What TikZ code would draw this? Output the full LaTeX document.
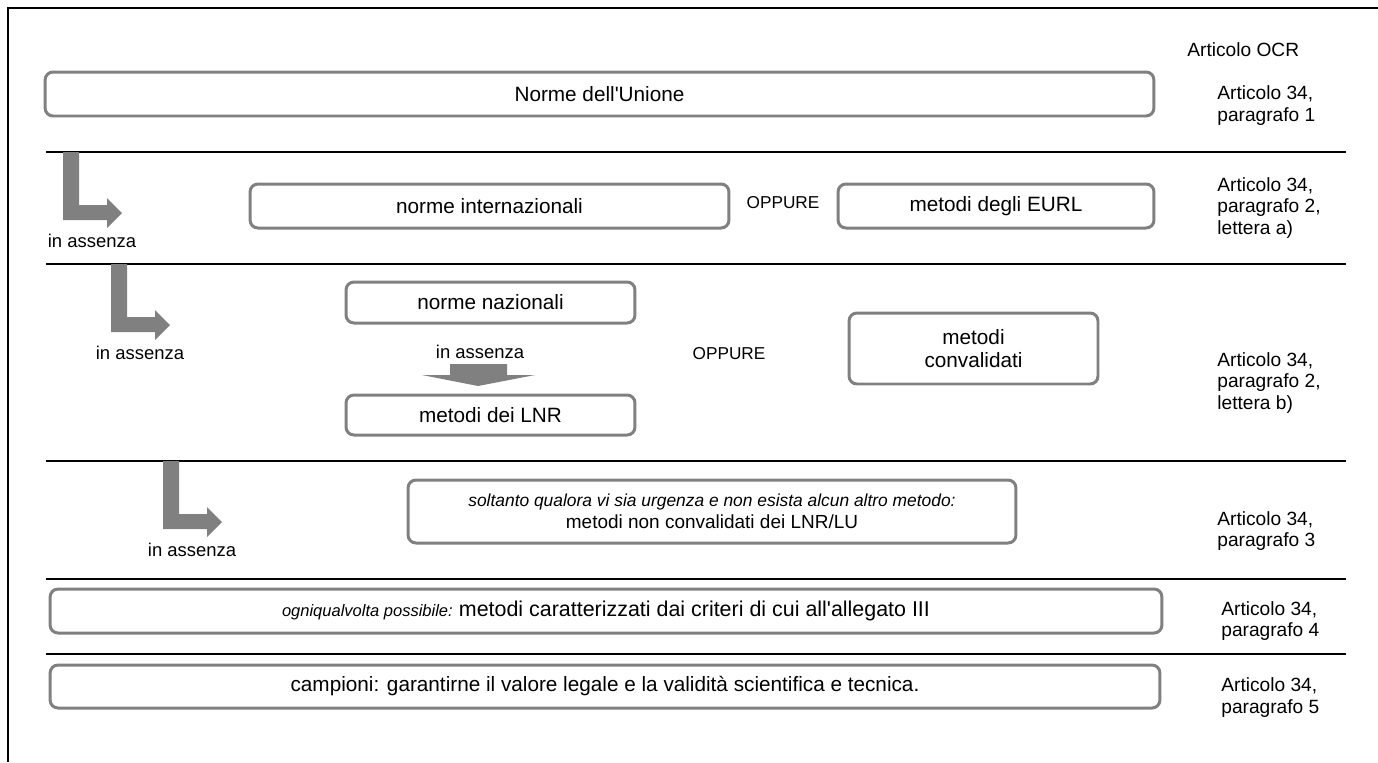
\documentclass[tikz,border=0pt]{standalone}
\usepackage{fontspec}
\setmainfont{Liberation Sans}
\usetikzlibrary{positioning}
\definecolor{boxgray}{HTML}{808080}
\tikzstyle{box}=[draw=boxgray,line width=1.7pt,rounded corners=4.5pt,inner sep=2pt,align=center,font=\fontsize{11.8}{13.5}\selectfont]
\tikzstyle{article}=[anchor=west,align=left,inner sep=0pt,font=\fontsize{10.9}{12}\selectfont]
\tikzstyle{note}=[inner sep=0pt,font=\fontsize{10.5}{12}\selectfont]
\tikzstyle{small note}=[inner sep=0pt,font=\fontsize{9.8}{12}\selectfont]
\tikzstyle{rule}=[draw,line width=1pt]
\tikzstyle{bend arrow}=[fill=boxgray]

\begin{document}
\begin{tikzpicture}[x=0.02cm,y=-0.02cm]
    \useasboundingbox (0,0) rectangle (1378,762);
    % Frame and row separators
    \draw[line width=1.2pt] (8,762) -- (8,8) -- (1378,8);
    \foreach \y in {152,264,461,579,654}
        \path[rule] (46,\y) -- (1346,\y);

    % Method boxes
    \node[box,minimum width=22.18cm,minimum height=0.88cm] (unione) at (599.5,94) {Norme dell\textquotesingle Unione};
    \node[box,minimum width=9.58cm,minimum height=0.88cm] (internaz) at (489.5,206) {norme internazionali};
    \node[box,minimum width=6.32cm,minimum height=0.88cm] (eurl) at (996,206) {metodi degli EURL};
    \node[box,minimum width=5.78cm,minimum height=0.82cm] (nazion) at (490.5,302.5) {norme nazionali};
    \node[box,minimum width=5.78cm,minimum height=0.80cm] (lnr) at (490.5,415) {metodi dei LNR};
    \node[box,minimum width=4.98cm,minimum height=1.42cm] (convalid) at (973.5,348.5) {metodi\\convalidati};
    \node[box,minimum width=12.16cm,minimum height=1.26cm,font=\fontsize{10.8}{12.5}\selectfont] (urgenza) at (712,511.5)
        {{\fontsize{9.9}{11.5}\selectfont\itshape soltanto qualora vi sia urgenza e non esista alcun altro metodo:}\\metodi non convalidati dei LNR/LU};
    \node[box,minimum width=22.24cm,minimum height=0.88cm,font=\fontsize{12.2}{14}\selectfont] (criteri) at (606,611)
        {{\fontsize{9.4}{11}\selectfont\itshape ogniqualvolta possibile: }metodi caratterizzati dai criteri di cui all\textquotesingle allegato III};
    \node[box,minimum width=22.2cm,minimum height=0.86cm] (campioni) at (605,686.5)
        {campioni: garantirne il valore legale e la validità scientifica e tecnica.};

    % OPPURE and in assenza
    \node[small note] (oppure1) at (783,203) {OPPURE};
    \node[small note] (oppure2) at (729,354) {OPPURE};
    \node[note] (assenza) at (480,352) {in assenza};
    \path[bend arrow] (450,364) -- (507,364) -- (507,375) -- (535,375) -- (478,386) -- (422,375) -- (450,375) -- cycle;

    % Bent arrows on the left
    \foreach \ox/\oy/\name in {63/152/assenzaA, 111/264/assenzaB, 163/461/assenzaC}{
        \path[bend arrow,shift={(\ox,\oy)}] (0,0) -- (16,0) -- (16,53) -- (44,53) -- (44,46) -- (59,61) -- (44,76) -- (44,68) -- (0,68) -- cycle;
        \node[note] (\name) at (\ox+29,\oy+89) {in assenza};
    }

    % Article references
    \node[article] (ocr) at (1187,50) {Articolo OCR};
    \foreach \x/\y/\txt/\name in {1217/105.5/{Articolo 34,\\paragrafo 1}/artA,
        1217/208/{Articolo 34,\\paragrafo 2,\\lettera a)}/artB,
        1217/383/{Articolo 34,\\paragrafo 2,\\lettera b)}/artC,
        1217/531/{Articolo 34,\\paragrafo 3}/artD,
        1221/621/{Articolo 34,\\paragrafo 4}/artE,
        1221/697.5/{Articolo 34,\\paragrafo 5}/artF}
        \node[article] (\name) at (\x,\y) {\txt};
\end{tikzpicture}
\end{document}
